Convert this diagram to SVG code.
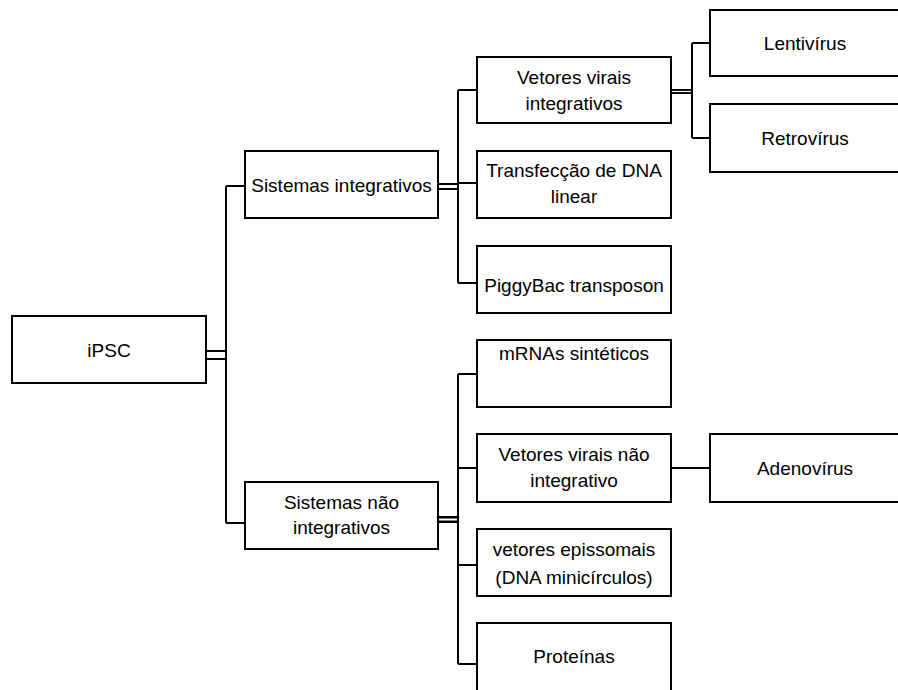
<svg xmlns="http://www.w3.org/2000/svg" width="898" height="690" viewBox="0 0 898 690">
<style>
.box{fill:#fff;stroke:#000;stroke-width:2}
.t{font-family:"Liberation Sans",Arial,sans-serif;font-size:19px;fill:#000;text-anchor:middle}
.c{fill:none;stroke:#000;stroke-width:2}
.dbo{fill:none;stroke:#000}
.dbi{fill:none;stroke:#fff}
</style>
<rect width="898" height="690" fill="#fff"/>
<g id="connectors">
  <path class="c" d="M226 186V523M226 186H245M226 523H245"/>
  <path class="c" d="M458 90V283M458 90H477M458 183H477M458 283H477"/>
  <path class="c" d="M458 374V664M458 374H477M458 468H477M458 565H477M458 664H477"/>
  <path class="c" d="M692 43V138M692 43H710M692 138H710"/>
  <path class="c" d="M671 468H710"/>
  <line class="dbo" x1="206" y1="355" x2="227" y2="355" stroke-width="10"/>
  <line class="dbi" x1="206" y1="355" x2="225" y2="355" stroke-width="6"/>
  <line class="dbo" x1="438" y1="186.5" x2="459" y2="186.5" stroke-width="7"/>
  <line class="dbi" x1="438" y1="186.5" x2="457" y2="186.5" stroke-width="3"/>
  <line class="dbo" x1="438" y1="519.5" x2="459" y2="519.5" stroke-width="7"/>
  <line class="dbi" x1="438" y1="519.5" x2="457" y2="519.5" stroke-width="2"/>
  <line class="dbo" x1="671" y1="91.5" x2="693" y2="91.5" stroke-width="5"/>
  <line class="dbi" x1="671" y1="91.5" x2="691" y2="91.5" stroke-width="1.2"/>
</g>
<g id="ipsc"><rect class="box" x="12" y="316" width="194" height="67"/><text class="t" x="109" y="357">iPSC</text></g>
<g id="sist-int"><rect class="box" x="245" y="151" width="193" height="67"/><text class="t" x="341.5" y="192">Sistemas integrativos</text></g>
<g id="sist-nao-int"><rect class="box" x="245" y="482" width="193" height="67"/><text class="t" x="341.5" y="509">Sistemas não</text><text class="t" x="341.5" y="534">integrativos</text></g>
<g id="vet-vir-int"><rect class="box" x="477" y="57" width="194" height="66"/><text class="t" x="574" y="84">Vetores virais</text><text class="t" x="574" y="110">integrativos</text></g>
<g id="transf"><rect class="box" x="477" y="151" width="194" height="67"/><text class="t" x="574" y="177">Transfecção de DNA</text><text class="t" x="574" y="203">linear</text></g>
<g id="piggybac"><rect class="box" x="477" y="246" width="194" height="67"/><text class="t" x="574" y="292">PiggyBac transposon</text></g>
<g id="mrna"><rect class="box" x="477" y="340" width="194" height="67"/><text class="t" x="574" y="360">mRNAs sintéticos</text></g>
<g id="vet-vir-nao-int"><rect class="box" x="477" y="434" width="194" height="68"/><text class="t" x="574" y="461">Vetores virais não</text><text class="t" x="574" y="487">integrativo</text></g>
<g id="epissomais"><rect class="box" x="477" y="529" width="194" height="67"/><text class="t" x="574" y="556">vetores epissomais</text><text class="t" x="574" y="584">(DNA minicírculos)</text></g>
<g id="proteinas"><rect class="box" x="477" y="623" width="194" height="80"/><text class="t" x="574" y="663">Proteínas</text></g>
<g id="lentivirus"><rect class="box" x="710" y="10" width="200" height="66"/><text class="t" x="805" y="50">Lentivírus</text></g>
<g id="retrovirus"><rect class="box" x="710" y="104" width="200" height="68"/><text class="t" x="805" y="145">Retrovírus</text></g>
<g id="adenovirus"><rect class="box" x="710" y="434" width="200" height="68"/><text class="t" x="805" y="475">Adenovírus</text></g>
</svg>
